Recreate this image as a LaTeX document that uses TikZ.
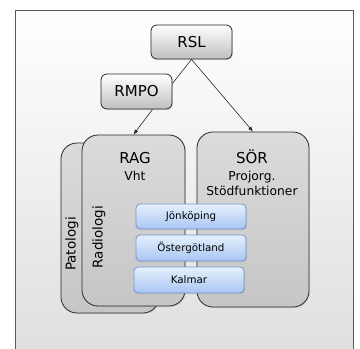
\documentclass[tikz,border=0pt]{standalone}
\usepackage{fontspec}
\setmainfont{DejaVu Sans}
\usetikzlibrary{arrows.meta,calc,shadows}
\definecolor{boxline}{RGB}{40,40,40}
\definecolor{frameline}{RGB}{90,90,90}
\definecolor{blueline}{RGB}{112,150,205}
\definecolor{bluetop}{RGB}{230,240,253}
\definecolor{bluebot}{RGB}{168,198,242}
\tikzset{
  headbox/.style={draw=boxline,line width=0.8pt,rounded corners=6pt,
    top color=white,bottom color=gray!50,inner sep=0pt,
    drop shadow={opacity=0.25,shadow xshift=1pt,shadow yshift=-1pt},
    font=\fontsize{15}{17}\selectfont},
  bigbox/.style={draw=boxline,line width=0.8pt,rounded corners=16pt,
    top color=gray!28,bottom color=gray!45,inner sep=0pt,
    drop shadow={opacity=0.2,shadow xshift=1pt,shadow yshift=-1pt}},
  regbox/.style={draw=blueline,line width=0.8pt,rounded corners=4pt,
    top color=bluetop,bottom color=bluebot,inner sep=0pt,
    minimum width=110pt,minimum height=25pt,
    drop shadow={opacity=0.2,shadow xshift=1pt,shadow yshift=-1pt},
    font=\fontsize{10.3}{12}\selectfont},
  conn/.style={line width=0.6pt,draw=boxline},
  arr/.style={conn,-{Latex[length=5pt,width=4pt]}},
}

\begin{document}
\begin{tikzpicture}[x=1pt,y=1pt,yscale=-1,xscale=1]
\useasboundingbox (0,0) rectangle (360,349);
% frame
\shade [top color=white,bottom color=gray!25] (16,10) rectangle (354,349);
\draw [frameline,line width=1pt] (16,349) -- (16,10) -- (354,10) -- (354,349);

% top level
\node [headbox,minimum width=81pt,minimum height=34pt] (RSL) at (191.5,42) {RSL};
\node [headbox,minimum width=71pt,minimum height=35pt] (RMPO) at (136.5,91.5) {RMPO};

% groups
\node [bigbox,minimum width=98pt,minimum height=170pt] (pat) at (110,228) {};
\node [bigbox,minimum width=103pt,minimum height=171pt] (RAG) at (133.5,220.5) {};
\node [bigbox,minimum width=112pt,minimum height=175pt] (SOR) at (253,219.5) {};

\node [font=\fontsize{13.5}{15}\selectfont,rotate=90] (patt) at (72,244) {Patologi};
\node [font=\fontsize{13.5}{15}\selectfont,rotate=90] (radt) at (99,237) {Radiologi};
\node [font=\fontsize{15}{17}\selectfont] (ragt) at (135,158) {RAG};
\node [font=\fontsize{12.3}{14}\selectfont] (ragv) at (135,176) {Vht};
\node [font=\fontsize{15}{17}\selectfont] (sort) at (252,157) {SÖR};
\node [font=\fontsize{12.3}{15}\selectfont,align=center] (sorv) at (252,183.5) {Projorg.\\Stödfunktioner};

% regions
\node [regbox] (jon) at (191,216.5) {Jönköping};
\node [regbox,minimum height=26pt] (ost) at (191,248) {Östergötland};
\node [regbox,minimum height=26pt] (kal) at (189,280) {Kalmar};

% connectors
\draw [conn] (RSL.south) -- ($(RMPO.east)+(0,-8)$);
\draw [arr] ($(RMPO.south)+(16,0)$) -- (RAG.north);
\draw [arr] (RSL.south) -- (SOR.north);
\end{tikzpicture}
\end{document}
